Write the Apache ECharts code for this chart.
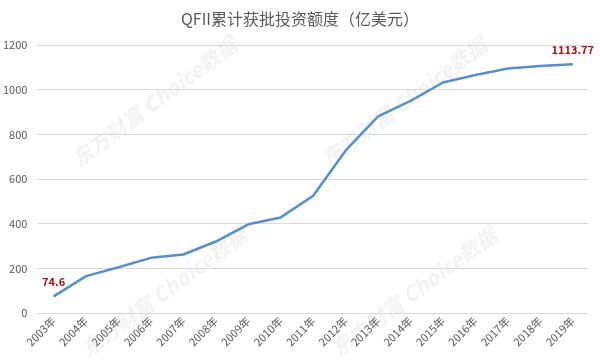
<!DOCTYPE html>
<html><head><meta charset="utf-8">
<script src="https://cdn.jsdelivr.net/npm/echarts@6/dist/echarts.min.js"></script>
<style>html,body{margin:0;padding:0;background:#fff}#c{width:600px;height:361px}</style>
</head><body><div id="c"></div>
<script>
const years = ['2003年','2004年','2005年','2006年','2007年','2008年','2009年','2010年','2011年','2012年','2013年','2014年','2015年','2016年','2017年','2018年','2019年'];
const quota = [74.6,165,205,247,262,320,397,428,525,728,880,950,1032,1066,1095,1106,1113.77];
const yTicks = {min:0, max:1200, interval:200};
const watermark = '东方财富 Choice数据';
const chart = echarts.init(document.getElementById('c'));
const font = '"Microsoft YaHei","Noto Sans CJK SC",sans-serif';
const wm = (x,y)=>({type:'text',x:x,y:y,rotation:0.64,z:-1,silent:true,
  style:{text:watermark,font:'italic bold 21px '+font,fill:'rgba(0,0,0,0.05)',textVerticalAlign:'bottom'}});
chart.setOption({
  animation:false,
  textStyle:{fontFamily:font},
  title:{text:'QFII累计获批投资额度（亿美元）',left:'center',top:6,textStyle:{fontSize:16,fontWeight:'normal',color:'#595959',fontFamily:font}},
  grid:{left:37,right:11,top:45,bottom:48},
  xAxis:{type:'category',data:years,boundaryGap:true,
    axisLine:{show:false},axisTick:{show:false},
    axisLabel:{rotate:45,color:'#595959',fontSize:11,interval:0,margin:6}},
  yAxis:{type:'value',min:yTicks.min,max:yTicks.max,interval:yTicks.interval,
    axisLine:{show:false},axisTick:{show:false},
    axisLabel:{color:'#595959',fontSize:11,margin:10,formatter:v=>String(v)},
    splitLine:{lineStyle:{color:'#d9d9d9',width:1}}},
  graphic:[wm(80,170),wm(330,170),wm(90,360),wm(340,360)],
  series:[{type:'line',data:quota.map((v,i)=>({value:v,label:{show:i===0||i===quota.length-1}})),
    symbol:'circle',symbolSize:0,showSymbol:true,smooth:false,
    lineStyle:{color:'#5b8fc4',width:2.5},itemStyle:{color:'#5b8fc4'},
    label:{show:false,position:'top',distance:9,color:'#a01414',fontWeight:'bold',fontSize:11,
      formatter:p=>p.value}}]
});
</script></body></html>
